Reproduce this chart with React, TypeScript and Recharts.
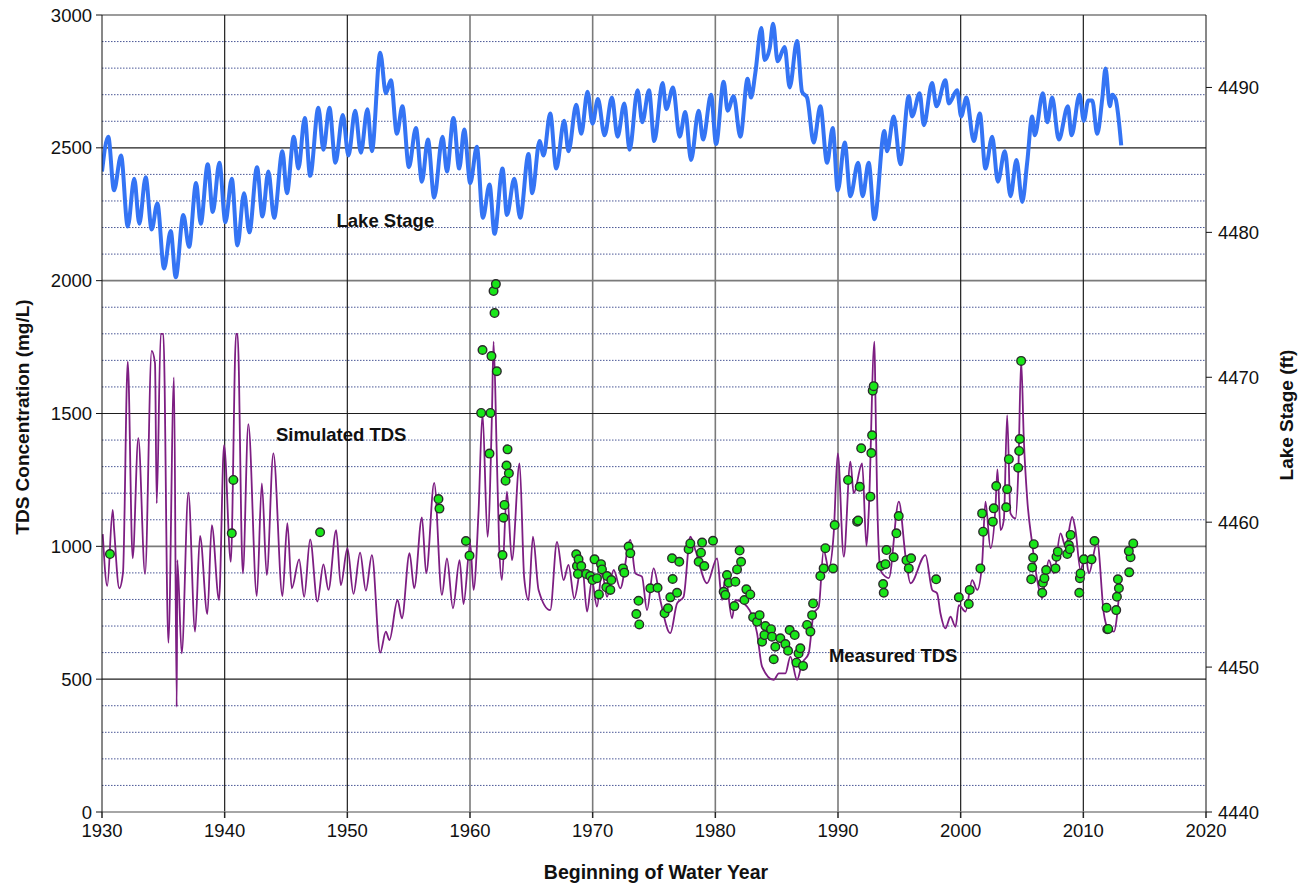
import React from 'react'
import { ComposedChart, Line, Scatter, XAxis, YAxis, CartesianGrid, ReferenceDot } from 'recharts'

// x ticks (water year) and y ticks
const yearTicks = [1930, 1940, 1950, 1960, 1970, 1980, 1990, 2000, 2010, 2020]
const tdsTicks = [0, 500, 1000, 1500, 2000, 2500, 3000]
const tdsMinor = [100, 200, 300, 400, 600, 700, 800, 900, 1100, 1200, 1300, 1400, 1600, 1700, 1800, 1900, 2100, 2200, 2300, 2400, 2600, 2700, 2800, 2900]
const stageTicks = [4440, 4450, 4460, 4470, 4480, 4490]

// lake stage (ft), [year, stage]
const lakeStage: [number, number][] = [
  [1930.0, 4484.2], [1930.51, 4486.6], [1930.98, 4482.9], [1931.55, 4485.3], [1932.10, 4480.4], [1932.63, 4483.7],
  [1933.04, 4480.6], [1933.56, 4483.8], [1934.05, 4480.2], [1934.51, 4482.0], [1935.06, 4477.5], [1935.60, 4480.1],
  [1936.01, 4476.9], [1936.63, 4481.2], [1937.10, 4479.0], [1937.67, 4483.4], [1938.05, 4480.6], [1938.62, 4484.7],
  [1939.03, 4481.4], [1939.57, 4484.8], [1940.06, 4480.7], [1940.58, 4483.7], [1941.04, 4479.1], [1941.58, 4482.7],
  [1942.01, 4480.0], [1942.64, 4484.5], [1943.08, 4481.1], [1943.56, 4484.2], [1944.03, 4481.0], [1944.71, 4485.6],
  [1945.07, 4482.7], [1945.64, 4486.6], [1946.01, 4484.4], [1946.53, 4487.9], [1946.97, 4483.9], [1947.64, 4488.6],
  [1948.05, 4485.7], [1948.54, 4488.6], [1949.03, 4484.8], [1949.63, 4488.1], [1950.09, 4485.3], [1950.64, 4488.4],
  [1951.10, 4485.5], [1951.64, 4488.5], [1952.00, 4485.6], [1952.68, 4492.4], [1953.14, 4489.6], [1953.55, 4490.5],
  [1954.04, 4486.8], [1954.49, 4488.7], [1955.02, 4484.5], [1955.59, 4487.2], [1956.08, 4483.5], [1956.57, 4486.4],
  [1957.08, 4482.4], [1957.76, 4486.6], [1958.12, 4484.2], [1958.65, 4487.9], [1959.12, 4484.4], [1959.53, 4487.1],
  [1960.02, 4483.4], [1960.56, 4485.9], [1961.05, 4481.0], [1961.59, 4483.3], [1962.00, 4479.9], [1962.65, 4484.4],
  [1963.01, 4481.2], [1963.61, 4483.7], [1964.09, 4481.0], [1964.77, 4485.4], [1965.07, 4482.7], [1965.67, 4486.3],
  [1966.00, 4485.3], [1966.54, 4488.2], [1967.03, 4484.4], [1967.68, 4487.7], [1968.03, 4485.6], [1968.66, 4488.8],
  [1969.07, 4486.8], [1969.58, 4489.7], [1969.99, 4487.5], [1970.43, 4489.2], [1970.97, 4486.7], [1971.57, 4489.3],
  [1972.03, 4486.6], [1972.58, 4488.9], [1973.01, 4485.7], [1973.66, 4489.8], [1974.05, 4487.6], [1974.59, 4489.8],
  [1975.02, 4486.3], [1975.70, 4490.3], [1976.00, 4488.5], [1976.55, 4490.0], [1977.09, 4486.6], [1977.55, 4488.3],
  [1978.02, 4485.0], [1978.64, 4488.4], [1979.00, 4486.4], [1979.65, 4489.5], [1980.06, 4486.1], [1980.68, 4490.4],
  [1981.00, 4488.4], [1981.49, 4489.4], [1982.04, 4486.6], [1982.63, 4490.6], [1982.91, 4489.3], [1983.26, 4491.0],
  [1983.75, 4494.1], [1984.02, 4491.9], [1984.43, 4492.7], [1984.71, 4494.4], [1985.08, 4491.8], [1985.65, 4492.8],
  [1986.06, 4490.0], [1986.66, 4493.2], [1987.07, 4489.7], [1987.48, 4489.3], [1988.02, 4486.2], [1988.56, 4488.7],
  [1989.11, 4484.8], [1989.57, 4487.2], [1989.98, 4482.9], [1990.55, 4486.2], [1991.01, 4482.5], [1991.64, 4484.8],
  [1992.01, 4482.5], [1992.50, 4484.8], [1992.97, 4480.9], [1993.78, 4487.0], [1994.00, 4485.6], [1994.54, 4488.0],
  [1995.09, 4484.7], [1995.77, 4489.4], [1996.04, 4488.0], [1996.66, 4489.6], [1996.99, 4487.4], [1997.67, 4490.3],
  [1998.03, 4488.7], [1998.76, 4490.5], [1999.03, 4488.9], [1999.71, 4489.8], [2000.04, 4488.0], [2000.47, 4489.3],
  [2001.07, 4486.3], [2001.56, 4488.2], [2002.02, 4484.4], [2002.57, 4486.6], [2003.03, 4483.5], [2003.60, 4485.6],
  [2004.06, 4482.5], [2004.55, 4485.0], [2005.02, 4482.1], [2005.42, 4484.8], [2005.83, 4488.0], [2006.04, 4486.7],
  [2006.70, 4489.6], [2007.06, 4487.6], [2007.46, 4489.3], [2008.00, 4486.4], [2008.74, 4488.7], [2009.04, 4486.7],
  [2009.69, 4489.5], [2010.04, 4487.7], [2010.40, 4489.1], [2010.73, 4489.1], [2011.13, 4486.8], [2011.54, 4489.2],
  [2011.81, 4491.3], [2012.16, 4488.7], [2012.36, 4489.5], [2012.63, 4489.2], [2013.09, 4486.0],
]

// simulated TDS (mg/L), [year, tds]
const simulatedTds: [number, number][] = [
  [1930.06, 1046], [1930.43, 851], [1930.87, 1137], [1930.98, 1068], [1931.41, 842], [1931.71, 900],
  [1932.10, 1695], [1932.50, 955], [1932.96, 1407], [1933.51, 896], [1934.05, 1736], [1934.32, 1690],
  [1934.46, 1162], [1934.79, 1800], [1935.00, 1800], [1935.41, 637], [1935.87, 1636], [1936.09, 396],
  [1936.14, 948], [1936.50, 597], [1937.04, 1202], [1937.59, 679], [1937.99, 1039], [1938.59, 745],
  [1938.95, 1080], [1939.54, 798], [1939.95, 1381], [1940.50, 942], [1940.93, 1800], [1941.05, 1800],
  [1941.48, 898], [1941.93, 1460], [1942.62, 813], [1943.03, 1237], [1943.43, 892], [1943.97, 1350],
  [1944.71, 813], [1945.11, 1087], [1945.47, 842], [1946.07, 951], [1946.48, 810], [1946.97, 1026],
  [1947.56, 792], [1948.05, 932], [1948.46, 836], [1949.09, 1061], [1949.47, 854], [1950.01, 993],
  [1950.50, 821], [1951.04, 976], [1951.51, 833], [1952.00, 967], [1952.68, 600], [1953.14, 679],
  [1953.43, 647], [1954.09, 798], [1954.45, 729], [1955.07, 974], [1955.45, 842], [1956.08, 1109],
  [1956.43, 898], [1957.08, 1239], [1957.71, 817], [1958.12, 955], [1958.61, 767], [1959.15, 948],
  [1959.47, 783], [1960.02, 1011], [1960.29, 836], [1960.69, 1124], [1961.02, 1500], [1961.43, 1036],
  [1961.79, 1500], [1961.92, 1770], [1962.18, 1350], [1962.38, 1000], [1962.60, 873], [1963.01, 1206],
  [1963.42, 948], [1964.04, 1312], [1964.42, 880], [1964.77, 798], [1965.13, 1036], [1965.59, 836],
  [1966.54, 760], [1967.09, 1017], [1967.63, 873], [1968.03, 930], [1968.50, 804], [1969.13, 936],
  [1969.54, 754], [1969.94, 873], [1970.35, 773], [1970.76, 904], [1971.17, 810], [1971.71, 911],
  [1972.25, 842], [1973.07, 1024], [1973.48, 898], [1974.02, 886], [1974.43, 760], [1974.97, 917],
  [1975.51, 798], [1976.33, 673], [1976.88, 785], [1977.41, 810], [1977.96, 1036], [1978.37, 986],
  [1979.32, 861], [1980.14, 955], [1980.55, 798], [1980.82, 886], [1981.36, 729], [1981.63, 798],
  [1982.59, 773], [1983.40, 673], [1983.81, 547], [1984.76, 497], [1985.17, 522], [1985.71, 522],
  [1986.12, 585], [1986.66, 497], [1987.07, 560], [1987.61, 597], [1988.02, 748], [1988.43, 773],
  [1988.83, 986], [1989.24, 917], [1989.65, 1049], [1989.98, 1350], [1990.47, 961], [1991.01, 1319],
  [1991.28, 1200], [1991.97, 1312], [1992.32, 1001], [1992.50, 1124], [1992.97, 1770], [1993.05, 1563],
  [1993.19, 1187], [1993.46, 911], [1993.87, 886], [1994.14, 880], [1994.96, 1168], [1995.51, 961],
  [1995.91, 861], [1997.13, 967], [1997.68, 836], [1998.08, 823], [1998.35, 748], [1998.76, 691],
  [1999.17, 735], [1999.58, 697], [1999.85, 779], [2000.39, 754], [2000.94, 873], [2001.35, 836],
  [2001.75, 936], [2002.02, 1168], [2002.43, 993], [2002.84, 1149], [2003.00, 1290], [2003.25, 1061],
  [2003.52, 1100], [2003.79, 1494], [2004.06, 1124], [2004.47, 1105], [2004.71, 1300], [2004.93, 1700],
  [2005.15, 1400], [2005.42, 1181], [2005.83, 1011], [2006.24, 873], [2006.65, 804], [2006.92, 886],
  [2007.19, 948], [2007.59, 898], [2008.14, 1049], [2008.55, 999], [2009.09, 1111], [2009.36, 1061],
  [2009.77, 911], [2010.18, 967], [2010.45, 898], [2011.13, 1017], [2011.67, 748], [2011.95, 697],
  [2012.49, 679], [2012.90, 810], [2013.03, 880],
]

// measured TDS (mg/L), [year, tds]
const measuredTds: [number, number][] = [
  [1930.65, 971], [1940.58, 1049], [1940.71, 1250], [1947.78, 1053], [1957.43, 1178], [1957.51, 1142],
  [1959.67, 1020], [1959.96, 965], [1960.91, 1502], [1961.02, 1739], [1961.59, 1349], [1961.67, 1502],
  [1961.75, 1716], [1961.92, 1961], [1962.00, 1878], [1962.11, 1987], [1962.19, 1659], [1962.65, 967],
  [1962.73, 1108], [1962.81, 1156], [1962.90, 1247], [1962.98, 1304], [1963.06, 1365], [1963.17, 1275],
  [1968.66, 970], [1968.72, 926], [1968.85, 951], [1968.80, 896], [1969.07, 926], [1969.48, 896],
  [1969.80, 888], [1969.99, 873], [1970.15, 951], [1970.35, 880], [1970.51, 819], [1970.68, 933],
  [1970.76, 913], [1971.11, 846], [1971.17, 888], [1971.44, 836], [1971.52, 873], [1972.47, 917],
  [1972.58, 901], [1972.93, 999], [1973.07, 974], [1973.56, 745], [1973.74, 795], [1973.80, 706],
  [1974.70, 842], [1975.29, 844], [1975.86, 748], [1976.14, 767], [1976.33, 808], [1976.47, 955],
  [1976.52, 877], [1976.88, 825], [1977.06, 942], [1977.82, 989], [1977.96, 1011], [1978.64, 942],
  [1978.83, 976], [1978.92, 1014], [1979.10, 926], [1979.81, 1021], [1980.68, 829], [1980.82, 817],
  [1980.95, 892], [1981.09, 863], [1981.55, 775], [1981.63, 867], [1981.77, 913], [1981.98, 984],
  [1982.10, 942], [1982.37, 798], [1982.53, 838], [1982.85, 819], [1983.08, 733], [1983.40, 716],
  [1983.61, 741], [1983.81, 641], [1984.00, 666], [1984.08, 700], [1984.54, 688], [1984.62, 660],
  [1984.76, 575], [1984.89, 622], [1985.30, 654], [1985.71, 632], [1985.93, 607], [1986.06, 685],
  [1986.47, 666], [1986.61, 562], [1986.79, 597], [1986.93, 616], [1987.15, 550], [1987.48, 704],
  [1987.75, 679], [1987.89, 741], [1987.97, 785], [1988.56, 888], [1988.83, 917], [1988.97, 993],
  [1989.60, 917], [1989.73, 1080], [1990.82, 1250], [1991.56, 1093], [1991.64, 1097], [1991.77, 1224],
  [1991.89, 1369], [1992.64, 1187], [1992.72, 1351], [1992.78, 1418], [1992.83, 1586], [1992.91, 1603],
  [1993.51, 926], [1993.68, 858], [1993.73, 825], [1993.87, 933], [1993.95, 986], [1994.54, 959],
  [1994.76, 1049], [1994.95, 1114], [1995.58, 948], [1995.77, 917], [1995.96, 955], [1998.00, 876],
  [1999.85, 808], [2000.66, 783], [2000.74, 836], [2001.61, 917], [2001.75, 1124], [2001.83, 1055],
  [2002.62, 1093], [2002.70, 1143], [2002.90, 1227], [2003.71, 1147], [2003.79, 1215], [2003.93, 1328],
  [2004.69, 1296], [2004.77, 1359], [2004.82, 1404], [2004.93, 1698], [2005.75, 876], [2005.83, 920],
  [2005.91, 957], [2005.96, 1008], [2006.65, 825], [2006.70, 863], [2006.83, 880], [2006.97, 911],
  [2007.73, 917], [2007.81, 961], [2007.92, 980], [2008.69, 971], [2008.82, 1005], [2008.90, 989],
  [2008.96, 1043], [2009.67, 825], [2009.72, 880], [2009.77, 898], [2010.04, 951], [2010.67, 951],
  [2010.91, 1020], [2011.89, 769], [2011.95, 688], [2012.03, 689], [2012.68, 760], [2012.74, 810],
  [2012.82, 876], [2012.90, 842], [2013.74, 902], [2013.85, 959], [2013.71, 982], [2014.07, 1011],
]

const lakeData = lakeStage.map(([year, stage]) => ({ year, stage }))
const simData = simulatedTds.map(([year, tds]) => ({ year, tds }))
const measData = measuredTds.map(([year, tds]) => ({ year, tds }))

const FONT = '"Liberation Sans", Arial, sans-serif'

const GreenDot = (props: any) => {
  const { cx, cy } = props
  if (cx == null || cy == null) return null
  return <circle cx={cx} cy={cy} r={4.3} fill="#19e619" stroke="#2b2b2b" strokeWidth={1.4} />
}

export default function App() {
  const tick = { fill: '#111', fontSize: 18.5, fontFamily: FONT }
  return (
    <div style={{ position: 'absolute', left: 0, top: 0, width: 1307, height: 886, background: '#fff' }}>
      <ComposedChart width={1307} height={886} margin={{ top: 15, right: 41, bottom: 44, left: 42 }}>
        {/* minor dotted grid every 100 mg/L */}
        <CartesianGrid
          horizontalValues={tdsMinor}
          vertical={false}
          stroke="#4a5796"
          strokeDasharray="1.5 1.5"
          strokeWidth={1}
        />
        {/* major grid, grey rows and columns */}
        <CartesianGrid
          horizontalValues={[1000, 2000, 3000]}
          verticalValues={[1960, 1970, 1980, 1990]}
          stroke="#7a7a7a"
          strokeWidth={1.6}
        />
        {/* major grid, black rows and columns */}
        <CartesianGrid
          horizontalValues={[500, 1500, 2500]}
          verticalValues={[1940, 1950, 2000, 2010]}
          stroke="#1e1e1e"
          strokeWidth={1.2}
        />
        <XAxis
          dataKey="year"
          type="number"
          domain={[1930, 2020]}
          ticks={yearTicks}
          allowDataOverflow
          height={30}
          tick={tick}
          tickSize={6}
          tickMargin={6}
          stroke="#888"
          strokeWidth={1.5}
          tickLine={{ stroke: '#222' }}
          label={() => (
            <text x={656} y={879} textAnchor="middle" fontFamily={FONT} fontWeight="bold" fontSize={19.5} fill="#111">
              Beginning of Water Year
            </text>
          )}
        />
        <YAxis
          domain={[0, 3000]}
          ticks={tdsTicks}
          width={60}
          allowDataOverflow
          tick={tick}
          tickSize={6}
          tickMargin={4}
          stroke="#111"
          label={() => (
            <text x={29} y={417} transform="rotate(-90 29 417)" textAnchor="middle" fontFamily={FONT} fontWeight="bold" fontSize={19} fill="#111">
              TDS Concentration (mg/L)
            </text>
          )}
        />
        <YAxis
          yAxisId="right"
          orientation="right"
          domain={[4440, 4495]}
          ticks={stageTicks}
          width={60}
          allowDataOverflow
          tick={tick}
          tickSize={6}
          tickMargin={6}
          stroke="#111"
          label={() => (
            <text x={1293} y={415} transform="rotate(-90 1293 415)" textAnchor="middle" fontFamily={FONT} fontWeight="bold" fontSize={19} fill="#111">
              Lake Stage (ft)
            </text>
          )}
        />
        <Line
          data={lakeData}
          yAxisId="right"
          dataKey="stage"
          type="monotone"
          stroke="#3474f4"
          strokeWidth={4}
          dot={false}
          isAnimationActive={false}
        />
        <Line
          data={simData}
          dataKey="tds"
          type="monotone"
          stroke="#7d1e82"
          strokeWidth={1.8}
          dot={false}
          isAnimationActive={false}
        />
        <Scatter data={measData} dataKey="tds" shape={<GreenDot />} isAnimationActive={false} />
        <ReferenceDot
          x={1953.1}
          y={2228}
          r={0}
          label={{ value: 'Lake Stage', position: 'center', fontSize: 18.5, fontWeight: 'bold', fill: '#111', fontFamily: FONT }}
        />
        <ReferenceDot
          x={1949.5}
          y={1423}
          r={0}
          label={{ value: 'Simulated TDS', position: 'center', fontSize: 18.5, fontWeight: 'bold', fill: '#111', fontFamily: FONT }}
        />
        <ReferenceDot
          x={1994.5}
          y={591}
          r={0}
          label={{ value: 'Measured TDS', position: 'center', fontSize: 18.5, fontWeight: 'bold', fill: '#111', fontFamily: FONT }}
        />
      </ComposedChart>
    </div>
  )
}
